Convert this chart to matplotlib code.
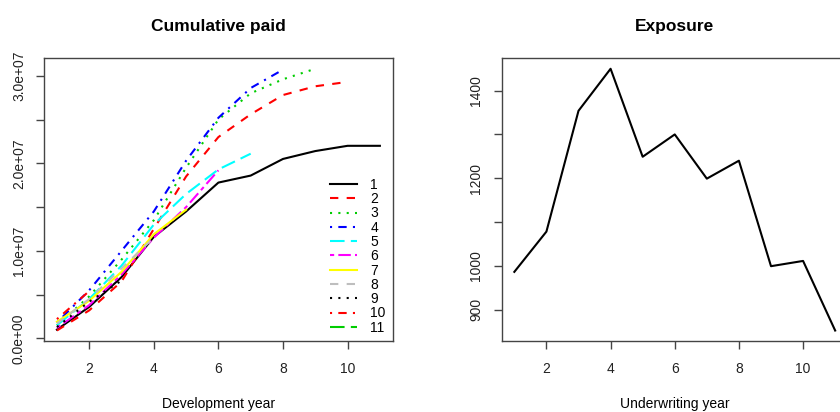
import matplotlib
matplotlib.use("Agg")
import matplotlib.pyplot as plt
from matplotlib.ticker import FixedLocator, FixedFormatter

plt.rcParams['font.family'] = ['Liberation Sans', 'DejaVu Sans']

# cumulative paid by underwriting year (rows) and development year (columns), in units of 1e6
dev_years = list(range(1, 12))
paid_1 = [1.0, 3.6, 7.0, 11.6, 14.5, 17.8, 18.6, 20.5, 21.4, 22.0, 22.0]
paid_2 = [0.9, 3.2, 6.5, 12.5, 18.5, 23.0, 25.6, 27.8, 28.8, 29.3]
paid_3 = [1.5, 4.8, 9.0, 13.5, 19.5, 25.0, 28.0, 29.6, 30.8]
paid_4 = [1.8, 5.5, 10.0, 14.5, 20.3, 25.2, 28.6, 30.7]
paid_5 = [1.5, 4.5, 8.3, 13.0, 16.5, 19.3, 21.1]
paid_6 = [1.2, 3.8, 7.3, 11.5, 15.0, 19.2]
paid_7 = [1.9, 4.3, 7.6, 11.9, 14.7]
paid_8 = [1.7, 4.5, 8.0, 11.5]
paid_9 = [1.3, 4.2, 6.6]
paid_10 = [2.2, 5.4]
paid_11 = [1.5]
paid_rows = [paid_1, paid_2, paid_3, paid_4, paid_5, paid_6,
             paid_7, paid_8, paid_9, paid_10, paid_11]
row_labels = [str(i) for i in range(1, 12)]

uw_years = list(range(1, 12))
exposure = [986, 1078, 1354, 1450, 1249, 1300, 1199, 1240, 999, 1011, 852]

# R default palette and lty cycle
r_cols = ['black', '#FF0000', '#00CD00', '#0000FF', '#00FFFF', '#FF00FF',
          '#FFFF00', '#BEBEBE']
r_ltys = [None, (4, 4), (1, 3), (1, 3, 4, 3), (7, 3), (2, 2, 6, 2)]

fig = plt.figure(figsize=(8.4, 4.12), dpi=100)
W, H = 840, 412
ax1 = fig.add_axes([44 / W, (H - 341) / H, 348.8 / W, 282.7 / H])
ax2 = fig.add_axes([501.5 / W, (H - 341) / H, 346.5 / W, 282.7 / H])

lw = 1.5
for i, row in enumerate(paid_rows):
    col = r_cols[i % len(r_cols)]
    lty = r_ltys[i % len(r_ltys)]
    vals = [v * 1e6 for v in row]
    line, = ax1.plot(dev_years[:len(row)], vals, color=col, lw=lw,
                     label=row_labels[i])
    if lty is not None:
        line.set_dashes(lty)

ax2.plot(uw_years, exposure, color='black', lw=lw)

for ax in (ax1, ax2):
    ax.margins(x=0.04, y=0.04)
    for s in ax.spines.values():
        s.set_color('#444444')
        s.set_linewidth(1.0)
    ax.tick_params(direction='out', length=6, width=1, color='#444444',
                   labelsize=10, labelcolor='#222222')
    ax.tick_params(axis='x', pad=9)
    ax.tick_params(axis='y', pad=7)
    ax.set_xticks([2, 4, 6, 8, 10])

ax1.yaxis.set_major_locator(FixedLocator([0, 5e6, 1e7, 1.5e7, 2e7, 2.5e7, 3e7]))
ax1.yaxis.set_major_formatter(FixedFormatter(
    ['0.0e+00', '', '1.0e+07', '', '2.0e+07', '', '3.0e+07']))
ax2.yaxis.set_major_locator(FixedLocator([900, 1000, 1100, 1200, 1300, 1400]))
ax2.yaxis.set_major_formatter(FixedFormatter(['900', '1000', '', '1200', '', '1400']))
for ax in (ax1, ax2):
    for lab in ax.get_yticklabels():
        lab.set_rotation(90)
        lab.set_va('center')

ax1.set_title('Cumulative paid', fontsize=12.5, fontweight='bold', pad=20)
ax2.set_title('Exposure', fontsize=12.5, fontweight='bold', pad=20)
ax1.set_xlabel('Development year', fontsize=10, labelpad=15)
ax2.set_xlabel('Underwriting year', fontsize=10, labelpad=15)

ax1.legend(loc='upper left', bbox_to_anchor=(0.82, 0.577), frameon=False,
           fontsize=10, handlelength=1.95, handletextpad=0.95, labelspacing=0.02,
           borderpad=0, borderaxespad=0)

fig.savefig('out.png', dpi=100)
